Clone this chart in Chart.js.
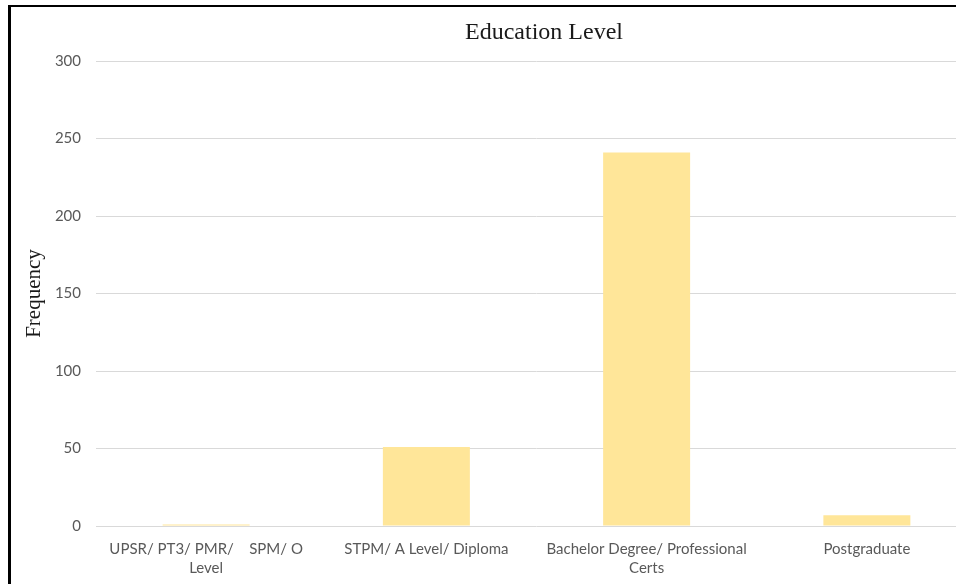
<!DOCTYPE html>
<html>
<head>
<meta charset="utf-8">
<script src="https://cdn.jsdelivr.net/npm/chart.js@4/dist/chart.umd.min.js"></script>
<style>
  html, body { margin: 0; padding: 0; background: #fff; overflow: hidden; }
  #wrap { position: relative; width: 956px; height: 584px; overflow: hidden; }
  #frame { position: absolute; left: 8px; top: 5px; right: 0; bottom: 0;
           border-left: 3px solid #000; border-top: 2px solid #000; pointer-events: none; }
</style>
</head>
<body>
<div id="wrap">
  <canvas id="eduChart" width="1000" height="584"></canvas>
  <div id="frame"></div>
</div>
<script>
// education categories and counts
const categories = [
  ["UPSR/ PT3/ PMR/    SPM/ O", "Level"],
  "STPM/ A Level/ Diploma",
  ["Bachelor Degree/ Professional", "Certs"],
  "Postgraduate"
];
const frequency = [1, 51, 241, 7];
const yMax = 300;
const yStep = 50;

const chartTitle = "Education Level";
const axisTitle = "Frequency";

const tickColor = "#595959";
const tickFont = { family: "Lato, 'Open Sans', sans-serif", size: 15, lineHeight: 1.25 };
const serif = "'Liberation Serif', 'Times New Roman', serif";

// title drawn at a fixed spot above the plot
const titlePlugin = {
  id: "eduTitle",
  afterDraw(chart){
    const {ctx} = chart;
    ctx.save();
    ctx.font = "24px " + serif;
    ctx.fillStyle = "#1a1a1a";
    ctx.textAlign = "center";
    ctx.textBaseline = "middle";
    ctx.fillText(chartTitle, 544, 33);
    ctx.restore();
  }
};

const ctx = document.getElementById("eduChart").getContext("2d");
new Chart(ctx, {
  type: "bar",
  data: {
    labels: categories,
    datasets: [{
      label: axisTitle,
      data: frequency,
      backgroundColor: "#FFE699",
      borderWidth: 0,
      categoryPercentage: 1,
      barPercentage: 0.395
    }]
  },
  options: {
    responsive: false,
    animation: false,
    layout: { padding: { top: 61, left: 22, right: 23, bottom: 0 } },
    plugins: { legend: { display: false }, tooltip: { enabled: false } },
    scales: {
      x: {
        grid: { display: false },
        border: { display: false },
        ticks: { color: tickColor, font: tickFont, maxRotation: 0, autoSkip: false, padding: 6 },
        afterFit: s => { s.height = 58; }
      },
      y: {
        min: 0,
        max: yMax,
        grid: { color: "#D9D9D9", drawTicks: false },
        border: { display: false },
        ticks: { stepSize: yStep, color: tickColor, font: tickFont, padding: 15 },
        title: { display: true, text: axisTitle, color: "#1a1a1a", padding: 0,
                 font: { family: serif, size: 21 } },
        afterFit: s => { s.width = 74; }
      }
    }
  },
  plugins: [titlePlugin]
});
</script>
</body>
</html>
